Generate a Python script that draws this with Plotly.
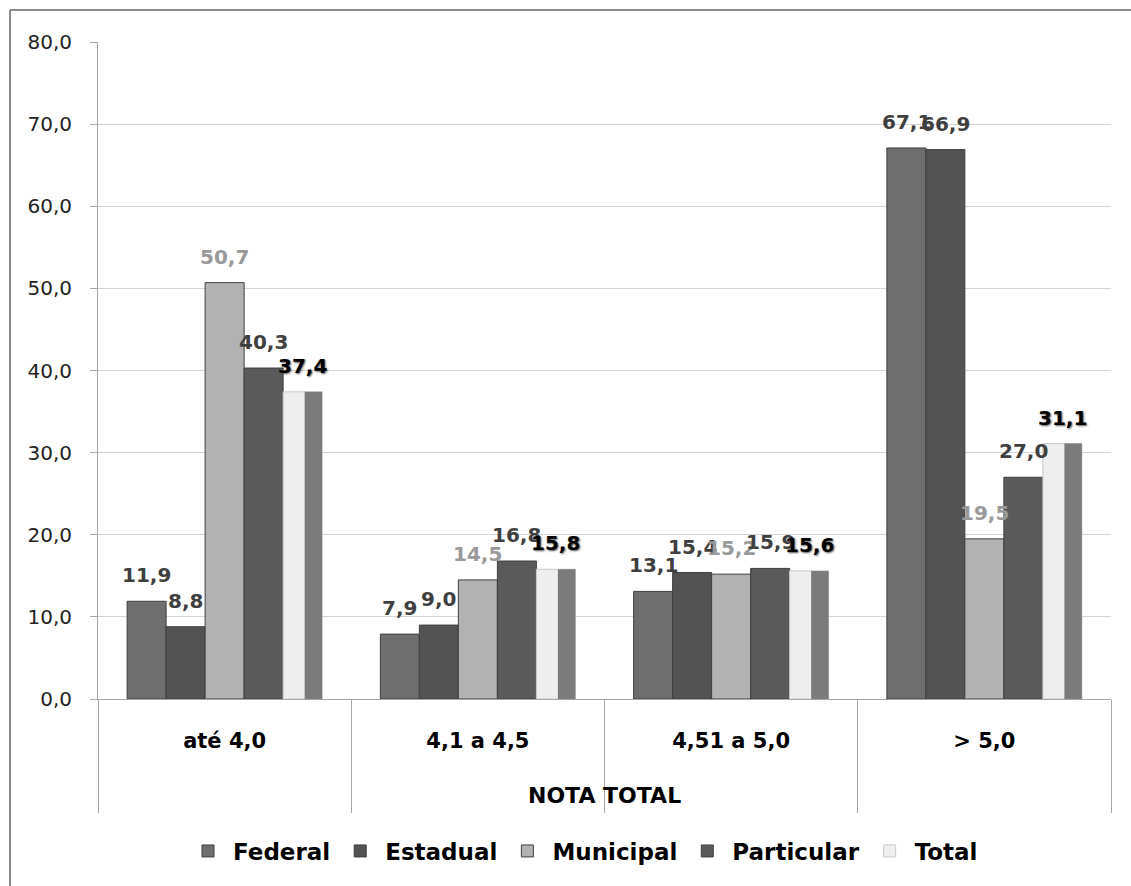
import plotly.graph_objects as go

categories = ["até 4,0", "4,1 a 4,5", "4,51 a 5,0", "> 5,0"]
federal = [11.9, 7.9, 13.1, 67.1]
estadual = [8.8, 9.0, 15.4, 66.9]
municipal = [50.7, 14.5, 15.2, 19.5]
particular = [40.3, 16.8, 15.9, 27.0]
total = [37.4, 15.8, 15.6, 31.1]

W, H = 1131, 886
ML, MR, MT, MB = 98, 20, 42, 187
PW, PH = W - ML - MR, H - MT - MB
CAT_PX = PW / len(categories)

BW = 0.154
X0 = -0.385
lab_font = "DejaVu Sans"

series = [
    ("Federal", federal, "#6e6e6e", "#3f3f3f"),
    ("Estadual", estadual, "#535353", "#3f3f3f"),
    ("Municipal", municipal, "#b2b2b2", "#999999"),
    ("Particular", particular, "#5a5a5a", "#3f3f3f"),
]

fig = go.Figure()
annotations = []


def add_labels(vals, idx, color, shadow=None):
    xs = (X0 + idx * BW + BW / 2) * CAT_PX
    for c, v in zip(categories, vals):
        f = dict(family=lab_font, size=20, color=color, weight="bold")
        if shadow:
            f["shadow"] = shadow
        annotations.append(dict(
            x=c, y=v, xref="x", yref="y", text=f"{v:.1f}".replace(".", ","),
            showarrow=False, xanchor="center", yanchor="bottom",
            xshift=xs, yshift=12, font=f))


for i, (name, vals, col, tcol) in enumerate(series):
    fig.add_trace(go.Bar(
        name=name, x=categories, y=vals,
        offset=X0 + i * BW, width=BW,
        marker=dict(color=col, line=dict(color="#3f3f3f", width=1)),
    ))
    add_labels(vals, i, tcol)

# Total: light face + darker side
fig.add_trace(go.Bar(
    name="Total", x=categories, y=total,
    offset=X0 + 4 * BW, width=BW,
    marker=dict(color="#eeeeee", line=dict(color="#c8c8c8", width=1)),
))
fig.add_trace(go.Bar(
    name="Total", x=categories, y=total, showlegend=False, hoverinfo="skip",
    offset=X0 + 4 * BW + 0.085, width=BW - 0.085,
    marker=dict(color="#7b7b7b", line=dict(color="#6a6a6a", width=0)),
))
add_labels(total, 4, "#000000", shadow="1px 1px 2px #555")

px2x = lambda p: (p - ML) / PW
py2y = lambda p: (MT + PH - p) / PH

annotations.append(dict(text="<b>NOTA TOTAL</b>", xref="paper", yref="paper",
                        x=0.5, y=py2y(795), xanchor="center", yanchor="middle",
                        showarrow=False,
                        font=dict(family=lab_font, size=22, color="#000")))

fig.update_layout(
    width=W, height=H,
    margin=dict(l=ML, r=MR, t=MT, b=MB),
    barmode="overlay",
    separators=",.",
    paper_bgcolor="white", plot_bgcolor="white",
    font=dict(family=lab_font, color="#000"),
    showlegend=True,
    legend=dict(orientation="h", x=px2x(583), xanchor="center",
                y=py2y(851), yanchor="middle",
                font=dict(family=lab_font, size=23, color="#000", weight="bold"),
                itemwidth=40, traceorder="normal"),
    xaxis=dict(type="category", categoryorder="array", categoryarray=categories,
               range=[-0.5, 3.5],
               showline=True, linecolor="#a6a6a6", linewidth=1,
               ticks="outside", tickson="boundaries", ticklen=113,
               tickcolor="#a6a6a6", tickwidth=1,
               ticklabelstandoff=23,
               tickfont=dict(family=lab_font, size=21, color="#000", weight="bold"),
               showgrid=False, zeroline=False),
    yaxis=dict(range=[0, 80], dtick=10, tickformat=".1f",
               showline=True, linecolor="#a6a6a6", linewidth=1,
               ticks="outside", ticklen=7, tickcolor="#a6a6a6",
               ticklabelstandoff=14,
               tickfont=dict(family=lab_font, size=20, color="#222"),
               showgrid=True, gridcolor="#d4d4d4", gridwidth=1, zeroline=False),
    annotations=annotations,
    shapes=[
        dict(type="line", xref="paper", yref="paper",
             x0=px2x(10), x1=px2x(10), y0=py2y(10), y1=py2y(H + 5),
             line=dict(color="#8c8c8c", width=2)),
        dict(type="line", xref="paper", yref="paper",
             x0=px2x(10), x1=px2x(W + 5), y0=py2y(10), y1=py2y(10),
             line=dict(color="#8c8c8c", width=2)),
    ],
)

fig.write_html("out.html", config={"displayModeBar": False},
               post_script="document.body.style.margin='0px';")
